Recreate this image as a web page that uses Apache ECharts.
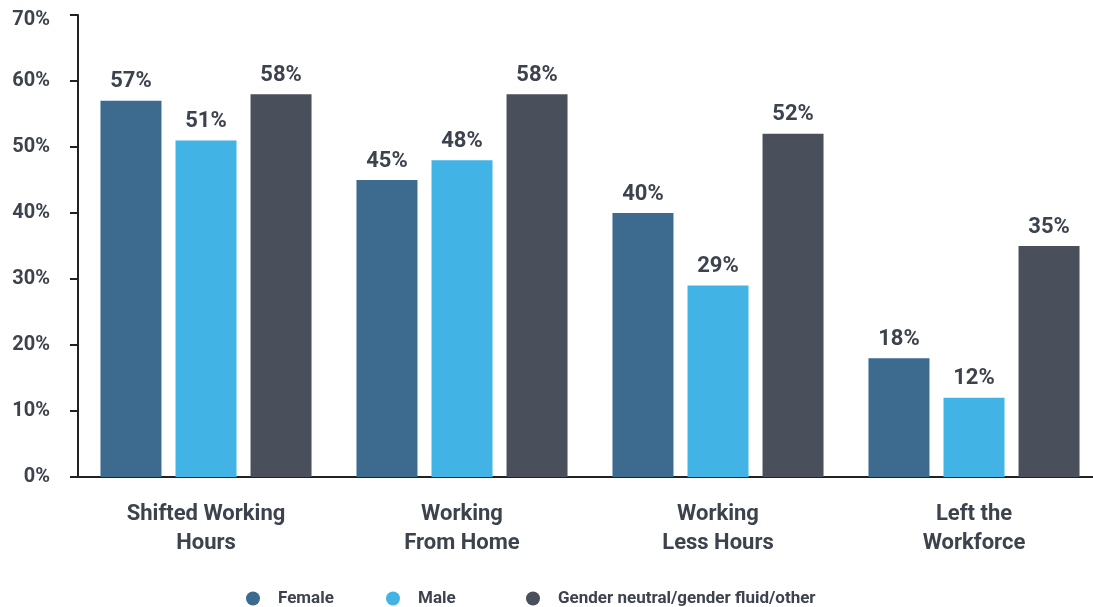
<!DOCTYPE html>
<html><head><meta charset="utf-8">
<script src="https://cdn.jsdelivr.net/npm/echarts@6/dist/echarts.min.js"></script>
<style>html,body{margin:0;padding:0;background:#fff;overflow:hidden}#c{width:1110px;height:607px}</style>
</head><body><div id="c"></div>
<script>
const categories = ['Shifted Working\nHours', 'Working\nFrom Home', 'Working\nLess Hours', 'Left the\nWorkforce'];
const female = [57, 45, 40, 18];
const male = [51, 48, 29, 12];
const other = [58, 58, 52, 35];
const seriesNames = ['Female', 'Male', 'Gender neutral/gender fluid/other'];
const colors = ['#3d6a8f', '#41b4e5', '#4a4f5c'];
const txt = '#3d434d';
const font = 'Roboto';

const chart = echarts.init(document.getElementById('c'));
const mk = (name, data, color) => ({
  name, type: 'bar', data, barWidth: 61, barGap: '23%',
  itemStyle: { color },
  label: { show: true, position: 'top', distance: 8, formatter: '{c}%', color: txt,
    fontFamily: font, fontWeight: 'bold', fontSize: 22 }
});
const legendLefts = [241, 381, 521];
const ylab = { color: txt, fontFamily: font, fontWeight: 'bold', fontSize: 20 };
chart.setOption({
  animation: false,
  grid: { left: 78, top: 15, width: 1024, bottom: 130 },
  legend: seriesNames.map((n, i) => ({
    data: [n], left: legendLefts[i], top: 585, icon: 'circle', itemWidth: 40, itemHeight: 14,
    textStyle: { color: txt, fontFamily: font, fontWeight: 'bold', fontSize: 17 }
  })),
  xAxis: {
    type: 'category', data: categories,
    axisLine: { lineStyle: { color: '#222', width: 2 } },
    axisTick: { alignWithLabel: true, length: 8, lineStyle: { color: '#222', width: 2 } },
    axisLabel: { color: txt, fontFamily: font, fontWeight: 'bold', fontSize: 22, lineHeight: 29, margin: 23 }
  },
  yAxis: {
    type: 'value', min: 0, max: 70, interval: 10,
    splitLine: { show: false },
    axisLine: { show: true, lineStyle: { color: '#222', width: 2 } },
    axisTick: { show: true, length: 8, lineStyle: { color: '#222', width: 2 } },
    axisLabel: {
      formatter: v => v === 70 ? '{t|' + v + '%}' : '{n|' + v + '%}',
      margin: 28,
      rich: { n: ylab, t: Object.assign({ padding: [10, 0, 0, 0] }, ylab) }
    }
  },
  series: [mk(seriesNames[0], female, colors[0]), mk(seriesNames[1], male, colors[1]), mk(seriesNames[2], other, colors[2])]
});
</script></body></html>
